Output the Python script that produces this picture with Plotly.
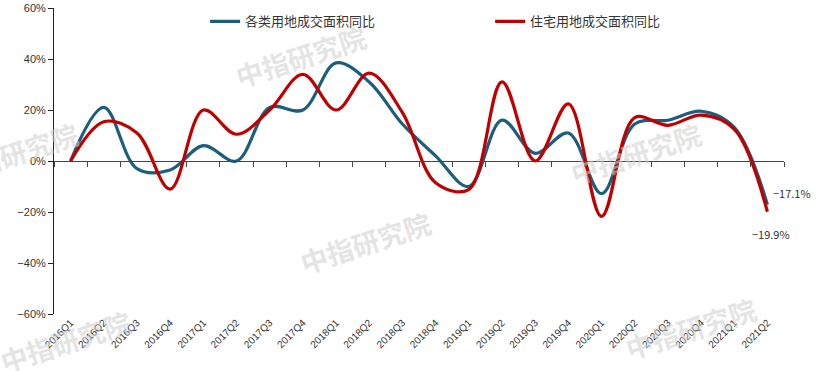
import plotly.graph_objects as go

quarters = ["2016Q1", "2016Q2", "2016Q3", "2016Q4", "2017Q1", "2017Q2", "2017Q3", "2017Q4",
            "2018Q1", "2018Q2", "2018Q3", "2018Q4", "2019Q1", "2019Q2", "2019Q3", "2019Q4",
            "2020Q1", "2020Q2", "2020Q3", "2020Q4", "2021Q1", "2021Q2"]
all_land = [0, 21, -3, -3.5, 6, 0, 21, 20, 38.5, 31, 14.5, 2,
            -10, 16, 3, 11, -12.8, 14.5, 16, 19.5, 13.2, -17.1]
residential = [0, 15.4, 11, -11, 20, 10.5, 20, 34, 20, 34.5, 19, -8.5,
               -11.2, 31, 0, 22.4, -21.7, 17, 14, 18, 12.5, -19.9]
name_all = "各类用地成交面积同比"
name_res = "住宅用地成交面积同比"
y_ticks = [-60, -40, -20, 0, 20, 40, 60]
y_labels = ["−60%", "−40%", "−20%", "0%", "20%", "40%", "60%"]

BLUE = "#1B5E7E"
RED = "#C00000"

fig = go.Figure()
fig.add_trace(go.Scatter(x=quarters, y=all_land, name=name_all, mode="lines",
                         line=dict(color=BLUE, width=3.2, shape="spline", smoothing=1.0)))
fig.add_trace(go.Scatter(x=quarters, y=residential, name=name_res, mode="lines",
                         line=dict(color=RED, width=3.2, shape="spline", smoothing=1.0)))
# invisible trace to drive the zero-line axis
fig.add_trace(go.Scatter(x=quarters, y=residential, xaxis="x2", mode="lines",
                         line=dict(width=0), opacity=0, showlegend=False, hoverinfo="skip"))

# end labels
fig.add_annotation(x=quarters[-1], y=all_land[-1], text="−17.1%", showarrow=False,
                   xanchor="left", xshift=4, yshift=12,
                   font=dict(size=11, color="#333", family="Noto Sans CJK SC"))
fig.add_annotation(x=quarters[-1], y=residential[-1], text="−19.9%", showarrow=False,
                   xanchor="center", xshift=4, yshift=-22,
                   font=dict(size=11, color="#333", family="Noto Sans CJK SC"))

# watermarks (pixel centres converted to paper coordinates)
marks = [(300, 56), (12, 153), (365, 243), (635, 153), (65, 342), (690, 328)]
for px, py in marks:
    fig.add_annotation(xref="paper", yref="paper", x=(px - 54) / 730, y=(314 - py) / 306,
                       xanchor="center", yanchor="middle",
                       text="中指研究院", showarrow=False, textangle=-18, opacity=0.55,
                       font=dict(size=27, color="#cfcfcf", family="Noto Sans CJK SC", weight="bold"))

fig.update_layout(
    width=816, height=371,
    margin=dict(l=54, r=32, t=8, b=57, autoexpand=False),
    paper_bgcolor="white", plot_bgcolor="white",
    font=dict(family="Liberation Sans, Arial, sans-serif", color="#333"),
    legend=dict(orientation="h", x=0.207, y=1.005, xanchor="left", yanchor="top",
                bgcolor="rgba(0,0,0,0)", entrywidth=240, entrywidthmode="pixels",
                font=dict(size=13, family="Noto Sans CJK SC", color="#333")),
    xaxis=dict(type="category", categoryarray=quarters, range=[-0.5, 21.5],
               showline=False, showgrid=False, zeroline=False, ticks="", automargin=False,
               tickangle=-45, tickfont=dict(size=10, color="#333")),
    xaxis2=dict(type="category", categoryarray=quarters, range=[-0.5, 21.5],
                overlaying="x", anchor="free", position=0.5, showline=True,
                linecolor="#444", linewidth=1, ticks="outside", ticklen=5,
                tickcolor="#444", tickson="boundaries", showticklabels=False,
                showgrid=False, zeroline=False, automargin=False),
    yaxis=dict(range=[-60, 60], tickvals=y_ticks, ticktext=y_labels, showline=True,
               linecolor="#222", linewidth=1, ticks="outside", ticklen=5, automargin=False,
               tickcolor="#222", showgrid=False, zeroline=False,
               tickfont=dict(size=11, color="#333")),
    showlegend=True,
)

fig.write_html("out.html", config={"displayModeBar": False},
               post_script="document.body.style.margin='0';")
